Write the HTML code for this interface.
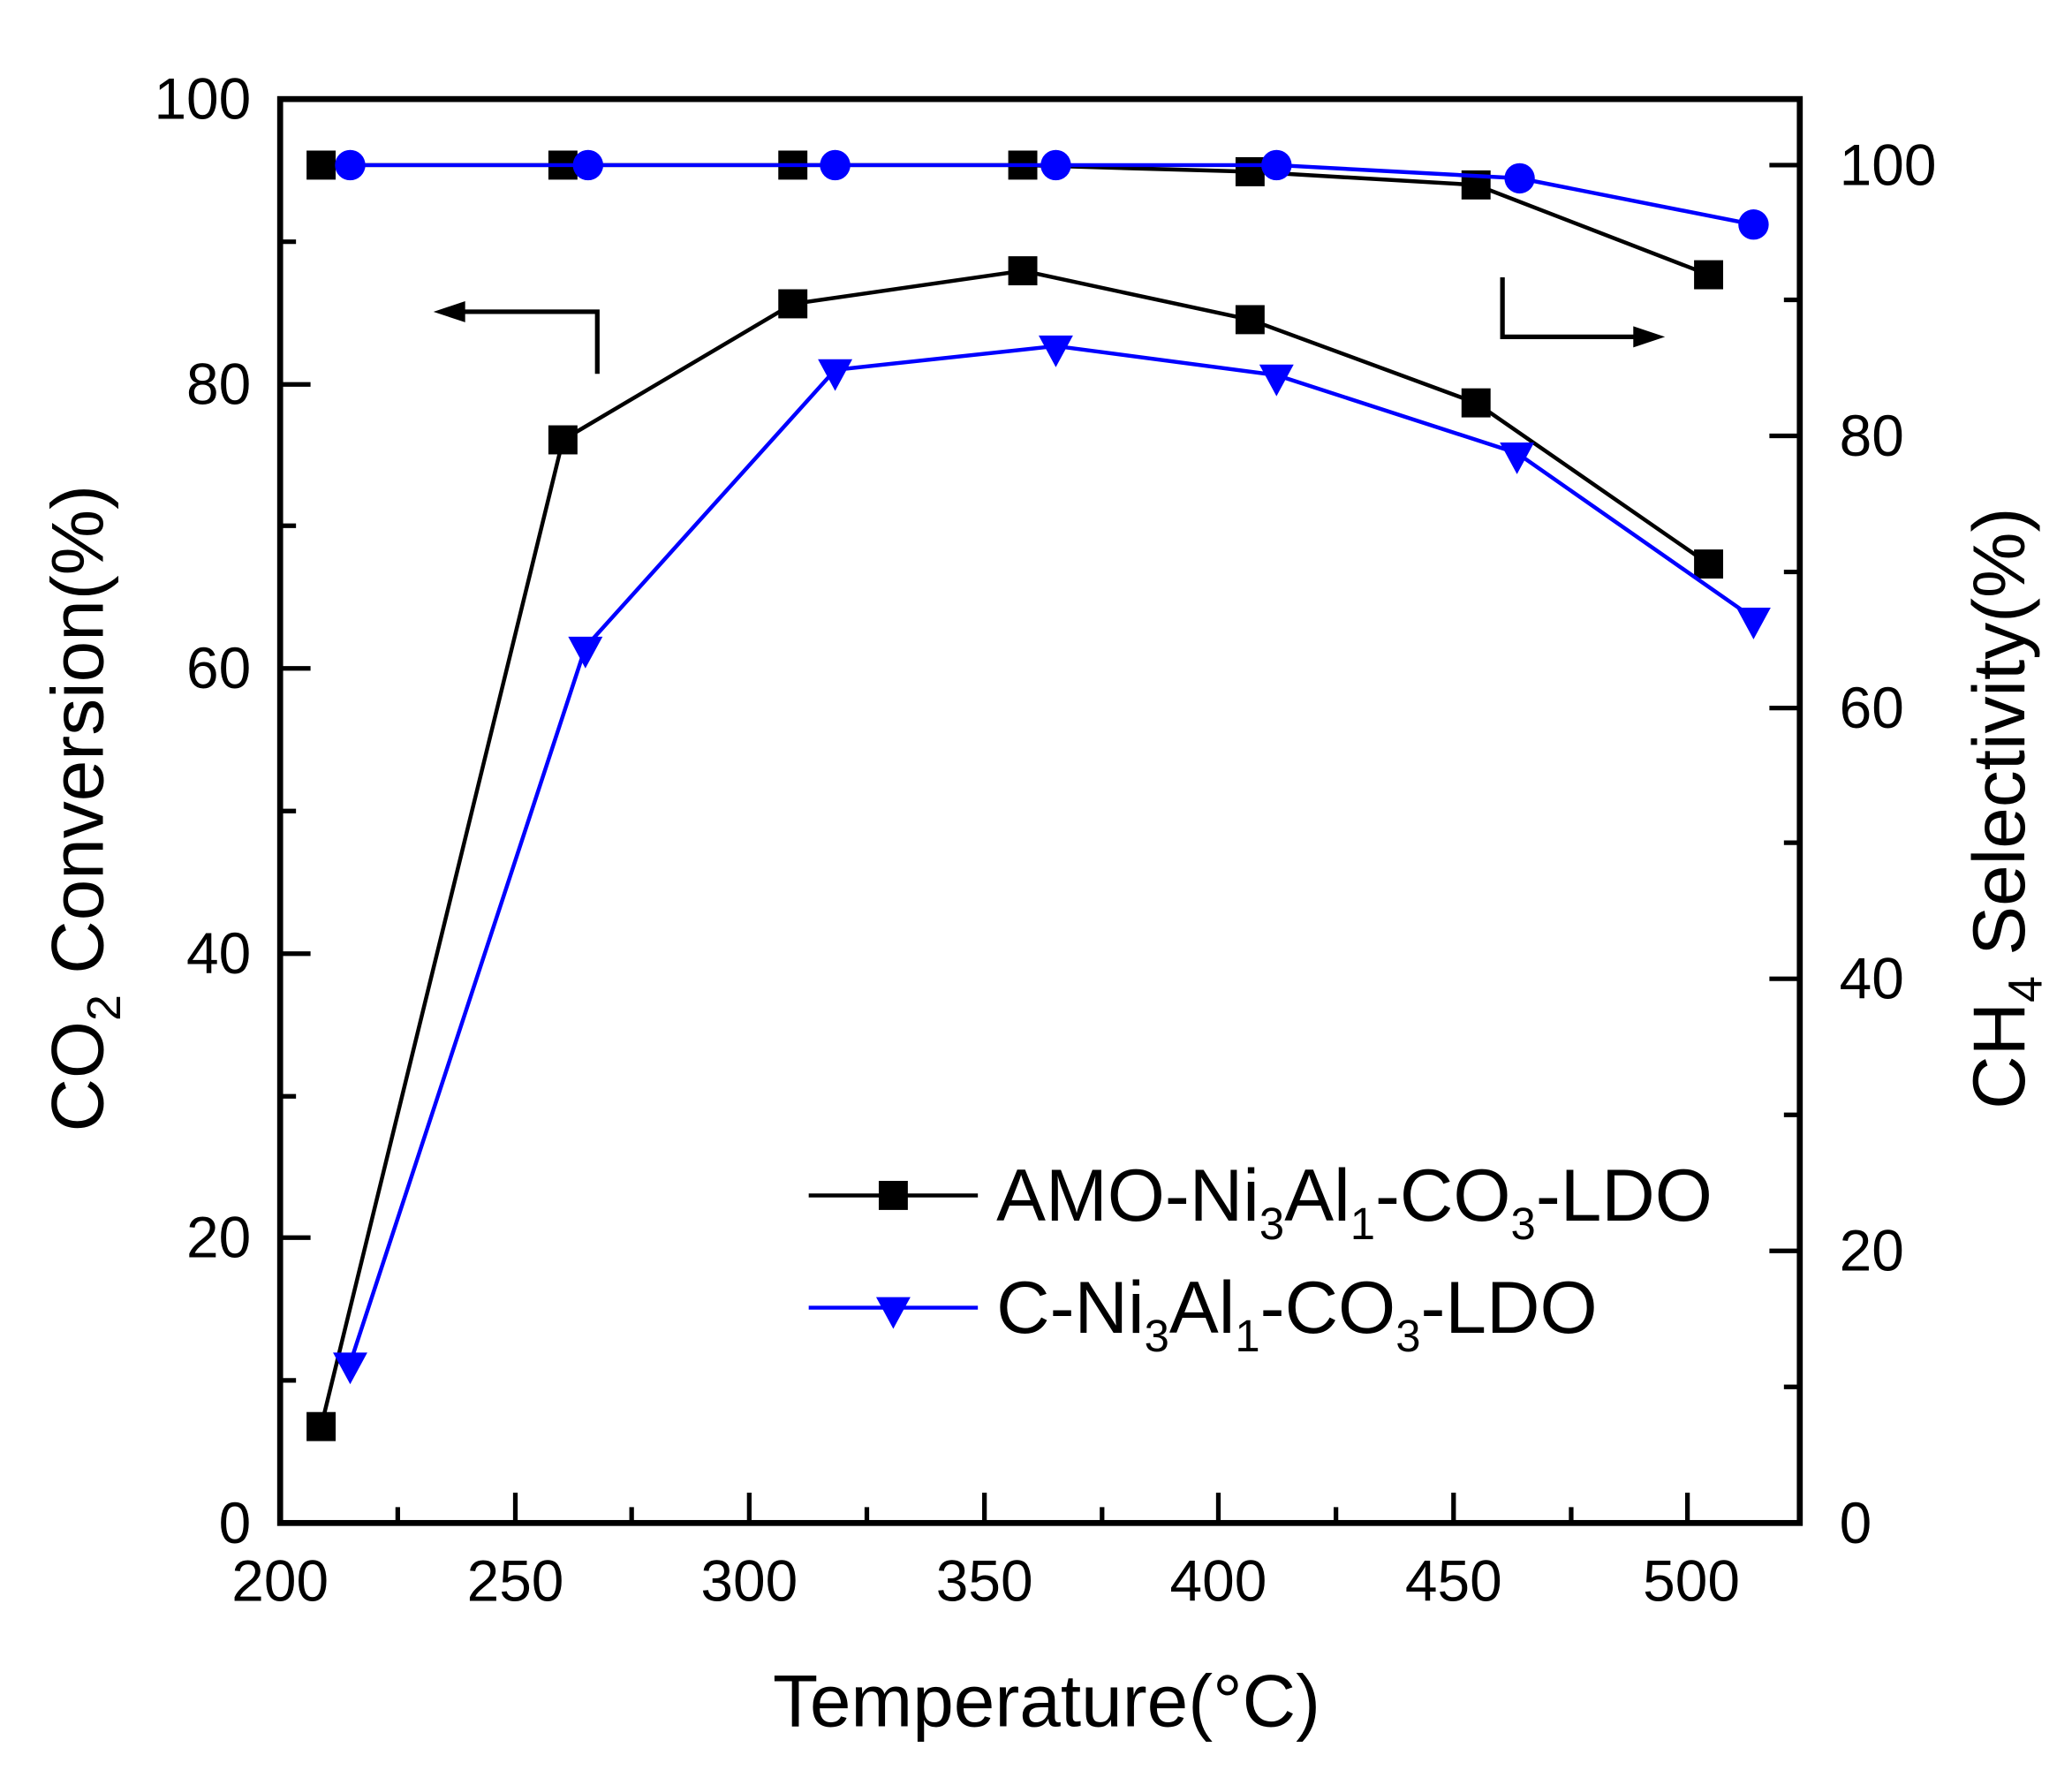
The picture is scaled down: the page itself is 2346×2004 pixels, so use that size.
<!DOCTYPE html>
<html><head><meta charset="utf-8"><style>html,body{margin:0;padding:0;background:#fff}svg{display:block}</style></head>
<body>
<svg width="2346" height="2004" viewBox="0 0 1568 1340" preserveAspectRatio="none" xmlns="http://www.w3.org/2000/svg" font-family="Liberation Sans, Arial, sans-serif">
<rect width="1568" height="1340" fill="#fff"/>
<rect x="212" y="75" width="1150" height="1078" fill="none" stroke="#000" stroke-width="4.5"/>
<g stroke="#000" stroke-width="3.5">
<path d="M390 1153v-23M567 1153v-23M745 1153v-23M922 1153v-23M1100 1153v-23M1277 1153v-23"/>
<path d="M301 1153v-12M478 1153v-12M656 1153v-12M834 1153v-12M1011 1153v-12M1189 1153v-12"/>
<path d="M212 937h23M212 722h23M212 506h23M212 291h23"/>
<path d="M212 1045h12M212 830h12M212 614h12M212 398h12M212 183h12"/>
<path d="M1362 947h-23M1362 741h-23M1362 536h-23M1362 330h-23M1362 125h-23"/>
<path d="M1362 1050h-12M1362 844h-12M1362 638h-12M1362 433h-12M1362 227h-12"/>
</g>
<g font-size="44" fill="#000">
<g text-anchor="middle">
<text x="212" y="1212">200</text><text x="390" y="1212">250</text><text x="567" y="1212">300</text><text x="745" y="1212">350</text><text x="922" y="1212">400</text><text x="1100" y="1212">450</text><text x="1280" y="1212">500</text>
</g>
<g text-anchor="end">
<text x="190" y="1168">0</text><text x="190" y="952">20</text><text x="190" y="737">40</text><text x="190" y="521">60</text><text x="190" y="306">80</text><text x="190" y="90">100</text>
</g>
<g text-anchor="start">
<text x="1392" y="1168">0</text><text x="1392" y="962">20</text><text x="1392" y="756">40</text><text x="1392" y="551">60</text><text x="1392" y="345">80</text><text x="1392" y="140">100</text>
</g>
</g>
<text x="792" y="1307" font-size="56" text-anchor="middle">Temperature(°C)</text>
<text transform="translate(78,612) rotate(-90)" font-size="56" text-anchor="middle">CO<tspan font-size="36" dy="13">2</tspan><tspan dy="-13"> Conversion(%)</tspan></text>
<text transform="translate(1532,612) rotate(-90)" font-size="56" text-anchor="middle">CH<tspan font-size="36" dy="13">4</tspan><tspan dy="-13"> Selectivity(%)</tspan></text>
<g stroke="#000" stroke-width="3.5" fill="none">
<path d="M452 283V236H350"/><path d="M1137 210V255H1240"/>
</g>
<path d="M328 236L352 228L352 244Z" fill="#000"/>
<path d="M1260 255L1236 247L1236 263Z" fill="#000"/>
<polyline fill="none" stroke="#000" stroke-width="3" points="243,1080 426,333 600,230 774,205 946,242 1117,305 1293,427"/>
<g fill="#000">
<rect x="232" y="1069" width="22" height="22"/><rect x="415" y="322" width="22" height="22"/><rect x="589" y="219" width="22" height="22"/><rect x="763" y="194" width="22" height="22"/><rect x="935" y="231" width="22" height="22"/><rect x="1106" y="294" width="22" height="22"/><rect x="1282" y="416" width="22" height="22"/>
</g>
<polyline fill="none" stroke="#000" stroke-width="3" points="243,125 426,125 600,125 774,125 946,130 1117,140 1293,208"/>
<g fill="#000">
<rect x="232" y="114" width="22" height="22"/><rect x="415" y="114" width="22" height="22"/><rect x="589" y="114" width="22" height="22"/><rect x="763" y="114" width="22" height="22"/><rect x="935" y="119" width="22" height="22"/><rect x="1106" y="129" width="22" height="22"/><rect x="1282" y="197" width="22" height="22"/>
</g>
<polyline fill="none" stroke="#0000ff" stroke-width="3" points="265,1032 443,490 632,280 799,262 966,284 1148,343 1327,468"/>
<g fill="#0000ff">
<path d="M252 1024h26l-13 24z"/><path d="M430 482h26l-13 24z"/><path d="M619 272h26l-13 24z"/><path d="M786 254h26l-13 24z"/><path d="M953 276h26l-13 24z"/><path d="M1135 335h26l-13 24z"/><path d="M1314 460h26l-13 24z"/>
</g>
<polyline fill="none" stroke="#0000ff" stroke-width="3" points="265,125 445,125 632,125 799,125 966,125 1150,135 1327,170"/>
<g fill="#0000ff">
<circle cx="265" cy="125" r="11.5"/><circle cx="445" cy="125" r="11.5"/><circle cx="632" cy="125" r="11.5"/><circle cx="799" cy="125" r="11.5"/><circle cx="966" cy="125" r="11.5"/><circle cx="1150" cy="135" r="11.5"/><circle cx="1327" cy="170" r="11.5"/>
</g>
<path d="M612 905H740" stroke="#000" stroke-width="3"/>
<rect x="665" y="894" width="22" height="22" fill="#000"/>
<path d="M612 990H740" stroke="#0000ff" stroke-width="3"/>
<path d="M663 982h26l-13 24z" fill="#0000ff"/>
<g font-size="56" fill="#000">
<text x="754" y="924">AMO-Ni<tspan font-size="34" dy="14">3</tspan><tspan dy="-14">Al</tspan><tspan font-size="34" dy="14">1</tspan><tspan dy="-14">-CO</tspan><tspan font-size="34" dy="14">3</tspan><tspan dy="-14">-LDO</tspan></text>
<text x="754" y="1009">C-Ni<tspan font-size="34" dy="14">3</tspan><tspan dy="-14">Al</tspan><tspan font-size="34" dy="14">1</tspan><tspan dy="-14">-CO</tspan><tspan font-size="34" dy="14">3</tspan><tspan dy="-14">-LDO</tspan></text>
</g>
</svg>
</body></html>
